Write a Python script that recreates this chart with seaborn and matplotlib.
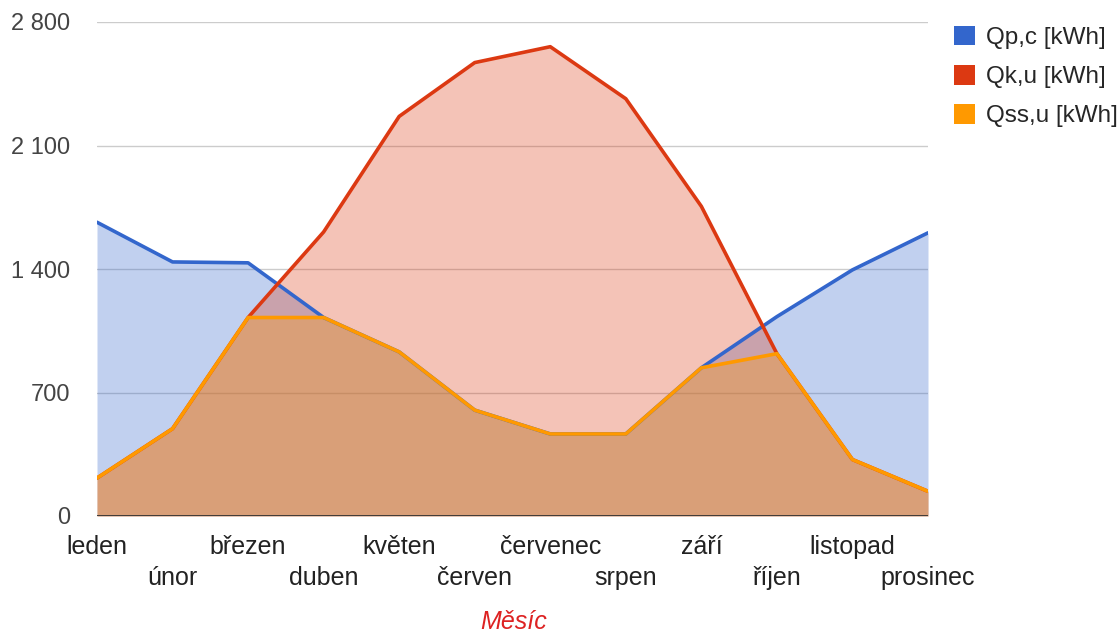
import matplotlib
matplotlib.use("Agg")
import matplotlib.pyplot as plt
from matplotlib.patches import Patch
from matplotlib.ticker import FuncFormatter
import pandas as pd
import seaborn as sns

# Monthly energy balance [kWh]
months = ["leden", "únor", "březen", "duben", "květen", "červen",
          "červenec", "srpen", "září", "říjen", "listopad", "prosinec"]
qp_c = [1665, 1440, 1435, 1125, 930, 600, 465, 465, 840, 1130, 1395, 1605]
qk_u = [215, 495, 1125, 1610, 2265, 2570, 2660, 2365, 1755, 920, 320, 140]
qss_u = [215, 495, 1125, 1125, 930, 600, 465, 465, 840, 920, 320, 140]

series_names = ["Qp,c [kWh]", "Qk,u [kWh]", "Qss,u [kWh]"]
series_values = [qp_c, qk_u, qss_u]
colors = ["#3366cc", "#dc3912", "#ff9900"]
y_ticks = [0, 700, 1400, 2100, 2800]

sns.set_theme(style="white")
plt.rcParams["font.family"] = ["Liberation Sans", "DejaVu Sans"]

df = pd.DataFrame({
    "idx": list(range(len(months))) * len(series_names),
    "value": qp_c + qk_u + qss_u,
    "series": [s for s in series_names for _ in months],
})

fig = plt.figure(figsize=(11.2, 6.35), dpi=100)
ax = fig.add_axes([97 / 1120, 1 - 516 / 635, (928 - 97) / 1120, (516 - 22) / 635])

# grid below everything
for t in y_ticks[1:]:
    ax.axhline(t, color="#cccccc", lw=1.0, zorder=0)

x = list(range(len(months)))
for i, (vals, c) in enumerate(zip(series_values, colors)):
    ax.fill_between(x, 0, vals, color=c, alpha=0.3, lw=0, zorder=1 + i)

sns.lineplot(data=df, x="idx", y="value", hue="series", palette=colors,
             hue_order=series_names, lw=2.6, ax=ax, legend=False, zorder=5)

ax.axhline(0, color="#333333", lw=1.3, zorder=6)

ax.set_xlim(0, len(months) - 1)
ax.set_ylim(0, 2800)
ax.set_yticks(y_ticks)
ax.yaxis.set_major_formatter(FuncFormatter(lambda v, p: f"{int(v):,}".replace(",", " ")))
ax.set_xticks(x)
ax.set_xticklabels(months)
ax.tick_params(axis="x", length=0, pad=13.5, labelsize=18, labelcolor="#222222")
ax.tick_params(axis="y", length=0, pad=19, labelsize=17, labelcolor="#444444")
# staggered month labels: every second one on a lower row
for i, tick in enumerate(ax.xaxis.get_major_ticks()):
    if i % 2 == 1:
        tick.set_pad(13.5 + 22.5)
for s in ax.spines.values():
    s.set_visible(False)
ax.set_xlabel("")
ax.set_ylabel("")

fig.text(514 / 1120, 1 - 622 / 635, "Měsíc", color="#dd2222", style="italic",
         fontsize=18, ha="center", va="center")

handles = [Patch(facecolor=c, edgecolor="none") for c in colors]
fig.legend(handles, series_names, loc="upper left", bbox_to_anchor=(954 / 1120, 1 - 26 / 635),
           frameon=False, fontsize=17.5, handlelength=0.85, handleheight=0.85,
           handletextpad=0.45, labelspacing=0.66, borderpad=0, borderaxespad=0)

fig.savefig("out.png", dpi=100)
